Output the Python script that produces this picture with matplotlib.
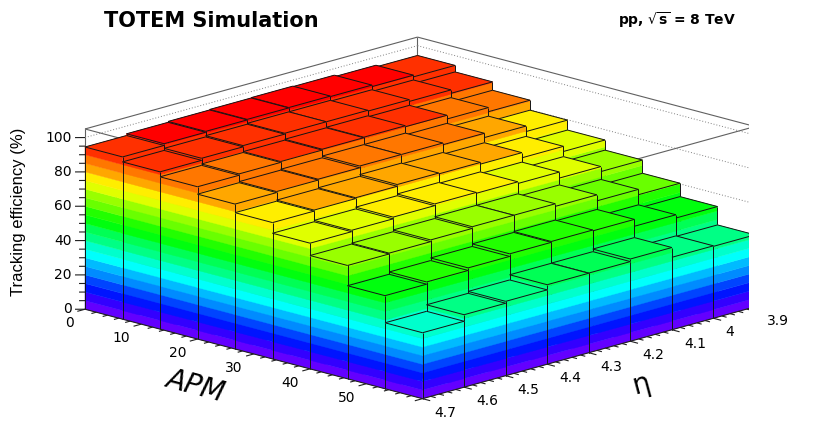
import colorsys
import numpy as np
from matplotlib import pyplot as plt
from mpl_toolkits.mplot3d import proj3d
from mpl_toolkits.mplot3d.art3d import Poly3DCollection, Line3DCollection

# Binning
apm_edges = np.linspace(0, 60, 10)
eta_edges = np.linspace(3.9, 4.7, 9)

# Tracking efficiency (%) - rows: APM bins, columns: eta bins from 3.9 to 4.7
eff = np.array([
    [94.3, 95.3, 96.2, 96.5, 96.3, 96.0, 95.5, 94.5],
    [90.5, 92.5, 93.5, 94.0, 94.0, 93.5, 92.8, 91.6],
    [85.6, 88.0, 90.2, 90.8, 90.5, 90.0, 89.5, 88.7],
    [79.8, 83.0, 85.5, 86.5, 86.5, 85.5, 85.0, 84.4],
    [74.0, 77.0, 80.0, 81.0, 81.5, 80.5, 80.0, 79.4],
    [68.1, 71.0, 74.5, 75.5, 76.0, 75.0, 74.0, 73.2],
    [60.4, 63.5, 67.0, 68.5, 68.5, 67.5, 66.5, 66.0],
    [52.6, 54.5, 58.5, 59.0, 58.5, 57.0, 55.5, 54.2],
    [41.9, 42.2, 47.9, 46.4, 46.3, 43.3, 42.2, 38.4],
])

apm_ticks = [0, 10, 20, 30, 40, 50]
eta_ticks = [3.9, 4.0, 4.1, 4.2, 4.3, 4.4, 4.5, 4.6, 4.7]
z_ticks = [0, 20, 40, 60, 80, 100]

z_top = 105
band = 5  # 20 contour levels


def level_color(z):
    # ROOT "pretty" palette: 50 colours, hue 280 -> 0, 20 levels
    k = min(int(z // band), 19)
    idx = int((k + 0.99) * 50 / 20)
    hue = max(280 - (idx + 1) * 5.6, 0)
    return colorsys.hsv_to_rgb(hue / 360, 1, 1)


W, H = 830, 443
fig = plt.figure(figsize=(W / 100, H / 100), dpi=100)
ax = fig.add_axes([0.1, 0.1, 0.8, 0.8], projection='3d', computed_zorder=False)
ax.set_proj_type('ortho')
ax.view_init(elev=15.7, azim=44.4)
ax.set_box_aspect((1, 0.994, 0.394))
ax.set_axis_off()

e_lo, e_hi = eta_edges[0], eta_edges[-1]
a_lo, a_hi = apm_edges[0], apm_edges[-1]

# box frame and dotted grid on the back walls
frame = [
    [(e_hi, a_lo, z_top), (e_lo, a_lo, z_top)],
    [(e_lo, a_lo, z_top), (e_lo, a_hi, z_top)],
    [(e_lo, a_hi, z_top), (e_hi, a_hi, z_top)],
    [(e_hi, a_hi, z_top), (e_hi, a_lo, z_top)],
    [(e_hi, a_lo, 0), (e_hi, a_lo, z_top)],
    [(e_lo, a_lo, 0), (e_lo, a_lo, z_top)],
    [(e_lo, a_hi, 0), (e_lo, a_hi, z_top)],
]
ax.add_collection3d(Line3DCollection(frame, colors='#606060', linewidths=0.8, zorder=1),
                    autolim=False)
grid = []
for z in z_ticks[1:]:
    grid.append([(e_hi, a_lo, z), (e_lo, a_lo, z)])
    grid.append([(e_lo, a_lo, z), (e_lo, a_hi, z)])
ax.add_collection3d(Line3DCollection(grid, colors='#808080', linewidths=0.7,
                                     linestyles=(0, (1, 2)), zorder=1), autolim=False)

# lego bars, painted from the back corner to the front corner
for i in range(len(apm_edges) - 1):
    for j in range(len(eta_edges) - 1):
        h = eff[i, j]
        a0, a1 = apm_edges[i], apm_edges[i + 1]
        e0, e1 = eta_edges[j], eta_edges[j + 1]
        cuts = list(np.arange(0, h, band)) + [h]
        faces, cols = [], []
        for lo, hi in zip(cuts[:-1], cuts[1:]):
            c = level_color(lo)
            faces.append([(e1, a0, lo), (e1, a1, lo), (e1, a1, hi), (e1, a0, hi)])
            faces.append([(e0, a1, lo), (e1, a1, lo), (e1, a1, hi), (e0, a1, hi)])
            cols += [c, c]
        faces.append([(e0, a0, h), (e1, a0, h), (e1, a1, h), (e0, a1, h)])
        cols.append(level_color(h))
        zo = 10 + 2 * (i + j)
        ax.add_collection3d(Poly3DCollection(faces, facecolors=cols, edgecolors=cols,
                                             linewidths=0.3, zorder=zo), autolim=False)
        edges = [
            [(e0, a0, h), (e1, a0, h)], [(e1, a0, h), (e1, a1, h)],
            [(e1, a1, h), (e0, a1, h)], [(e0, a1, h), (e0, a0, h)],
            [(e0, a1, 0), (e0, a1, h)], [(e1, a1, 0), (e1, a1, h)],
            [(e1, a0, 0), (e1, a0, h)],
        ]
        ax.add_collection3d(Line3DCollection(edges, colors='#141414', linewidths=0.7,
                                             zorder=zo + 1), autolim=False)

# axis lines and ticks
ticks = [[(e_hi, a_lo, 0), (e_hi, a_hi, 0)], [(e_hi, a_hi, 0), (e_lo, a_hi, 0)]]
for z in np.arange(0, z_top, 5):
    s = 0.0149 if z % 20 == 0 else 0.0089
    ticks.append([(e_hi, a_lo, z), (e_hi + 0.8 * s, a_lo - 60 * s, z)])
for a in np.arange(0, 60.1, 2):
    d = 0.0185 if a % 10 == 0 else 0.0116
    ticks.append([(e_hi, a, 0), (e_hi + d, a, 0)])
for k in range(41):
    e = 3.9 + 0.02 * k
    d = 1.37 if k % 5 == 0 else 0.86
    ticks.append([(e, a_hi, 0), (e, a_hi + d, 0)])
ax.add_collection3d(Line3DCollection(ticks, colors='#202020', linewidths=0.8, zorder=500),
                    autolim=False)

ax.set_xlim(e_lo, e_hi)
ax.set_ylim(a_lo, a_hi)
ax.set_zlim(0, z_top)


def to_pixels(x, y, z):
    xs, ys, _ = proj3d.proj_transform(np.atleast_1d(x), np.atleast_1d(y),
                                      np.atleast_1d(z), ax.get_proj())
    return ax.transData.transform(np.column_stack([xs, ys]))


# place the box so that its bottom corners land where they are in the original
fig.canvas.draw()
bb = ax.get_position()
S = bb.width * W
cx, cy = (bb.x0 + bb.width / 2) * W, (bb.y0 + bb.height / 2) * H
p = to_pixels([e_hi, e_lo], [a_lo, a_hi], [0, 0])
q = (p - [cx, cy]) / S
left_px, right_px = (85, H - 309), (755, H - 307)
S2 = (right_px[0] - left_px[0]) / (q[1, 0] - q[0, 0])
cx2 = left_px[0] - S2 * q[0, 0]
cy2 = (left_px[1] + right_px[1]) / 2 - S2 * (q[0, 1] + q[1, 1]) / 2
ax.set_position([(cx2 - S2 / 2) / W, (cy2 - S2 / 2) / H, S2 / W, S2 / H])
fig.canvas.draw()

# tick labels
for z in z_ticks:
    px, py = to_pixels(e_hi, a_lo, z)[0]
    fig.text((px - 13) / W, py / H, f"{z:g}", ha='right', va='center', fontsize=10)
for a in apm_ticks:
    px, py = to_pixels(e_hi, a, 0)[0]
    fig.text((px - 11) / W, (py - 14) / H, f"{a:g}", ha='right', va='center', fontsize=10)
for e in eta_ticks:
    px, py = to_pixels(e, a_hi, 0)[0]
    fig.text((px + 12) / W, (py - 14) / H, f"{e:g}", ha='left', va='center', fontsize=10)

# axis titles
fig.text(195 / W, (H - 386) / H, "APM", ha='center', va='center', fontsize=20,
         style='italic', rotation=-15)
fig.text(641 / W, (H - 384) / H, "η", ha='center', va='center', fontsize=20, rotation=15)
fig.text(18 / W, (H - 212) / H, "Tracking efficiency (%)", ha='center', va='center',
         fontsize=12, rotation=90, family='Liberation Sans')

fig.text(211 / W, (H - 26.7) / H, "TOTEM Simulation", ha='center', va='baseline',
         fontsize=15, fontweight='bold')
fig.text(677 / W, (H - 25) / H, r"pp, $\sqrt{\mathbf{s}}$ = 8 TeV", ha='center',
         va='baseline', fontsize=10, fontweight='bold')

fig.savefig('out.png', dpi=100)
